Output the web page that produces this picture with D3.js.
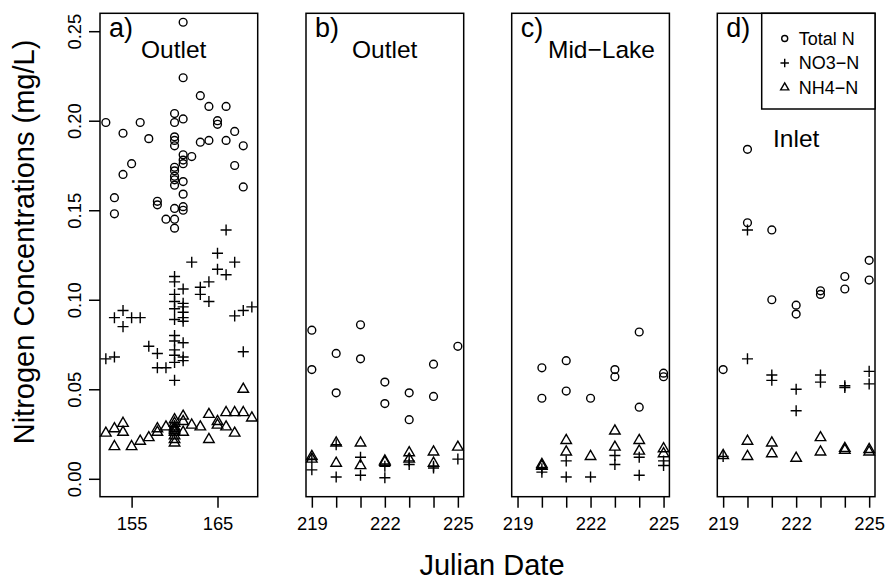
<!DOCTYPE html>
<html><head><meta charset="utf-8">
<script src="https://cdn.jsdelivr.net/npm/d3@7"></script>
<style>body{margin:0;background:#fff}svg{font-family:"Liberation Sans",Arial,sans-serif}</style>
</head><body><svg id="c" width="895" height="587"></svg>
<script>
// ---------- DATA ----------
const yTicks = [0, 0.05, 0.10, 0.15, 0.20, 0.25];
const xTicksA = [155, 165];
const xTicksB = [219, 220, 221, 222, 223, 224, 225];
const xLabelsB = [219, 222, 225];
const seriesNames = ["Total N", "NO3\u2212N", "NH4\u2212N"];

// Panel a) Outlet (early season)
const a_totalN = [[152,0.199],[153,0.157],[153,0.148],[154,0.193],[154,0.170],[155,0.176],[156,0.199],[157,0.190],
 [158,0.155],[158,0.153],[159,0.145],
 [160,0.204],[160,0.199],[160,0.191],[160,0.189],[160,0.186],[160,0.174],[160,0.172],[160,0.169],[160,0.167],[160,0.164],[160,0.151],[160,0.145],[160,0.140],
 [161,0.255],[161,0.224],[161,0.201],[161,0.181],[161,0.178],[161,0.176],[161,0.166],[161,0.159],[161,0.152],[161,0.150],
 [162,0.180],[163,0.214],[163,0.188],[164,0.208],[164,0.189],[165,0.200],[165,0.198],[166,0.208],[166,0.189],
 [167,0.194],[167,0.175],[168,0.186],[168,0.163]];
const a_no3 = [[152,0.067],[153,0.068],[153,0.090],[154,0.094],[154,0.085],[155,0.090],[156,0.090],[157,0.074],
 [158,0.070],[158,0.062],[159,0.062],
 [160,0.113],[160,0.110],[160,0.103],[160,0.099],[160,0.095],[160,0.089],[160,0.080],[160,0.077],[160,0.072],[160,0.069],[160,0.065],[160,0.055],
 [161,0.106],[161,0.098],[161,0.096],[161,0.093],[161,0.090],[161,0.088],[161,0.076],[161,0.068],[161,0.066],
 [162,0.121],[163,0.107],[163,0.103],[164,0.110],[164,0.099],[165,0.126],[165,0.117],[166,0.139],[166,0.114],
 [167,0.121],[167,0.091],[168,0.094],[168,0.071],[169,0.096]];
const a_nh4 = [[152,0.0255],[153,0.028],[153,0.018],[154,0.031],[154,0.026],[155,0.018],[156,0.021],[157,0.023],
 [158,0.026],[158,0.028],[159,0.029],
 [160,0.033],[160,0.031],[160,0.029],[160,0.028],[160,0.027],[160,0.026],[160,0.024],[160,0.022],[160,0.020],
 [161,0.035],[161,0.032],[161,0.026],[162,0.030],[163,0.029],[164,0.036],[164,0.022],[165,0.032],[165,0.030],
 [166,0.037],[166,0.029],[167,0.037],[167,0.0255],[168,0.050],[168,0.037],[169,0.034]];

// Panel b) Outlet (late season)
const b_totalN = [[219,0.083],[219,0.061],[220,0.070],[220,0.048],[221,0.086],[221,0.067],[222,0.054],[222,0.042],
 [223,0.048],[223,0.033],[224,0.064],[224,0.046],[225,0.074]];
const b_no3 = [[219,0.011],[219,0.005],[220,0.019],[220,0.001],[221,0.012],[221,0.002],[222,0.007],[222,0.0006],
 [223,0.010],[223,0.008],[224,0.007],[224,0.006],[225,0.011]];
const b_nh4 = [[219,0.0125],[219,0.011],[220,0.020],[220,0.0087],[221,0.020],[221,0.0074],[222,0.010],[222,0.0093],
 [223,0.0146],[223,0.011],[224,0.015],[224,0.0087],[225,0.0177]];

// Panel c) Mid-Lake
const c_totalN = [[220,0.062],[220,0.045],[221,0.066],[221,0.049],[222,0.045],[223,0.061],[223,0.057],
 [224,0.082],[224,0.040],[225,0.059],[225,0.057]];
const c_no3 = [[220,0.0056],[220,0.0037],[221,0.010],[221,0.001],[222,0.001],[223,0.013],[223,0.008],
 [224,0.012],[224,0.002],[225,0.010],[225,0.0074]];
const c_nh4 = [[220,0.008],[220,0.007],[221,0.0214],[221,0.015],[222,0.0125],[223,0.0267],[223,0.0177],
 [224,0.0214],[224,0.0155],[225,0.0168],[225,0.014]];

// Panel d) Inlet
const d_totalN = [[219,0.061],[220,0.184],[220,0.143],[221,0.139],[221,0.100],[222,0.097],[222,0.092],
 [223,0.105],[223,0.103],[224,0.113],[224,0.106],[225,0.122],[225,0.111]];
const d_no3 = [[219,0.0125],[220,0.139],[220,0.067],[221,0.058],[221,0.055],[222,0.050],[222,0.038],
 [223,0.058],[223,0.054],[224,0.052],[224,0.051],[225,0.060],[225,0.053]];
const d_nh4 = [[219,0.013],[220,0.021],[220,0.0125],[221,0.020],[221,0.014],[222,0.0115],[223,0.023],[223,0.015],
 [224,0.017],[224,0.016],[225,0.0164],[225,0.015]];

const panels = [
  {letter:"a)", site:"Outlet", left:100, xdom:[152,169], ticks:xTicksA, labels:xTicksA, tn:a_totalN, no3:a_no3, nh4:a_nh4, siteX:141, siteY:58, yaxis:true},
  {letter:"b)", site:"Outlet", left:306, xdom:[219,225], ticks:xTicksB, labels:xLabelsB, tn:b_totalN, no3:b_no3, nh4:b_nh4, siteX:352, siteY:58},
  {letter:"c)", site:"Mid\u2212Lake", left:511.7, xdom:[219,225], ticks:xTicksB, labels:xLabelsB, tn:c_totalN, no3:c_no3, nh4:c_nh4, siteX:548, siteY:58},
  {letter:"d)", site:"Inlet", left:717.3, xdom:[219,225], ticks:xTicksB, labels:xLabelsB, tn:d_totalN, no3:d_no3, nh4:d_nh4, siteX:773, siteY:146.7, legend:true}
];

// ---------- DRAW ----------
const svg = d3.select("#c");
const W = 157.7, yTop = 13.3, yBot = 496.7;
const pad = d => { const r = d[1]-d[0]; return [d[0]-0.04*r, d[1]+0.04*r]; };
const y = d3.scaleLinear().domain(pad([0,0.25])).range([yBot, yTop]);
const lw = 1.4, R = 3.9;

function circ(g, pts, x, r) {
  g.selectAll(null).data(pts).enter().append("circle")
    .attr("cx", d => x(d[0])).attr("cy", d => y(d[1])).attr("r", r)
    .attr("fill", "none").attr("stroke", "#000").attr("stroke-width", lw);
}
function plus(g, pts, x, r) {
  const h = Math.SQRT2 * r;
  g.selectAll(null).data(pts).enter().append("path")
    .attr("d", d => { const cx = x(d[0]), cy = y(d[1]);
      return `M${cx-h},${cy}H${cx+h}M${cx},${cy-h}V${cy+h}`; })
    .attr("fill", "none").attr("stroke", "#000").attr("stroke-width", lw);
}
function tri(g, pts, x, r) {
  const rr = 1.5551*r, xc = 1.3468*r, yc = 0.7776*r;
  g.selectAll(null).data(pts).enter().append("path")
    .attr("d", d => { const cx = x(d[0]), cy = y(d[1]);
      return `M${cx},${cy-rr}L${cx+xc},${cy+yc}L${cx-xc},${cy+yc}Z`; })
    .attr("fill", "none").attr("stroke", "#000").attr("stroke-width", lw).attr("stroke-linejoin","miter");
}

panels.forEach(p => {
  const x = d3.scaleLinear().domain(pad(p.xdom)).range([p.left, p.left + W]);
  const g = svg.append("g");
  circ(g, p.tn, x, R);
  plus(g, p.no3, x, R);
  tri(g, p.nh4, x, R);

  // frame
  g.append("rect").attr("x", p.left).attr("y", yTop).attr("width", W).attr("height", yBot - yTop)
    .attr("fill", "none").attr("stroke", "#000").attr("stroke-width", 1.5);

  // x axis
  const xa = svg.append("g").attr("transform", `translate(0,${yBot})`)
    .call(d3.axisBottom(x).tickValues(p.ticks).tickSize(11).tickPadding(9)
      .tickFormat(d => p.labels.includes(d) ? d : ""));
  xa.select(".domain").remove();
  xa.selectAll(".tick line").attr("stroke-width", 1.5);
  xa.selectAll("text").attr("font-size", 18.4).attr("font-family", "Liberation Sans, Arial, sans-serif").attr("fill", "#000");

  // labels
  svg.append("text").attr("x", p.left + 9).attr("y", 37).attr("font-size", 27).text(p.letter);
  svg.append("text").attr("x", p.siteX).attr("y", p.siteY).attr("font-size", 24.5).text(p.site);

  if (p.yaxis) {
    const ya = svg.append("g").attr("transform", `translate(${p.left},0)`)
      .call(d3.axisLeft(y).tickValues(yTicks).tickSize(11).tickFormat(d3.format(".2f")));
    ya.select(".domain").remove();
    ya.selectAll(".tick line").attr("stroke-width", 1.5);
    ya.selectAll("text").attr("font-size", 18.4).attr("font-family", "Liberation Sans, Arial, sans-serif")
      .attr("fill", "#000").attr("text-anchor", "middle").attr("x", 0).attr("dy", null)
      .attr("transform", "translate(-26,0) rotate(-90)").attr("dominant-baseline", "central");
  }

  if (p.legend) {
    const lx = 761.7, ly = yTop, lwid = W - (lx - p.left), lh = 95.7;
    const lg = svg.append("g");
    lg.append("rect").attr("x", lx).attr("y", ly).attr("width", lwid).attr("height", lh)
      .attr("fill", "#fff").attr("stroke", "#000").attr("stroke-width", 1.5);
    const rowY = [38.5, 63, 87.5];
    const lr = 3.0;
    rowY.forEach((ry, i) => {
      const sx = lx + 23;
      if (i === 0) lg.append("circle").attr("cx", sx).attr("cy", ry).attr("r", lr).attr("fill","none").attr("stroke","#000").attr("stroke-width", lw);
      if (i === 1) { const h = Math.SQRT2*lr; lg.append("path").attr("d", `M${sx-h},${ry}H${sx+h}M${sx},${ry-h}V${ry+h}`).attr("stroke","#000").attr("stroke-width", lw); }
      if (i === 2) { const rr=1.5551*lr, xc=1.3468*lr, yc=0.7776*lr; lg.append("path").attr("d", `M${sx},${ry-rr}L${sx+xc},${ry+yc}L${sx-xc},${ry+yc}Z`).attr("fill","none").attr("stroke","#000").attr("stroke-width", lw); }
      lg.append("text").attr("x", sx + 14).attr("y", ry).attr("dominant-baseline", "central")
        .attr("font-size", 18).text(seriesNames[i]);
    });
  }
});

// axis titles
svg.append("text").attr("x", 492).attr("y", 565).attr("text-anchor", "middle").attr("dominant-baseline","central")
  .attr("font-size", 29).text("Julian Date");
svg.append("text").attr("transform", "translate(24,242) rotate(-90)").attr("text-anchor", "middle")
  .attr("dominant-baseline","central").attr("font-size", 29).text("Nitrogen Concentrations (mg/L)");
</script></body></html>
